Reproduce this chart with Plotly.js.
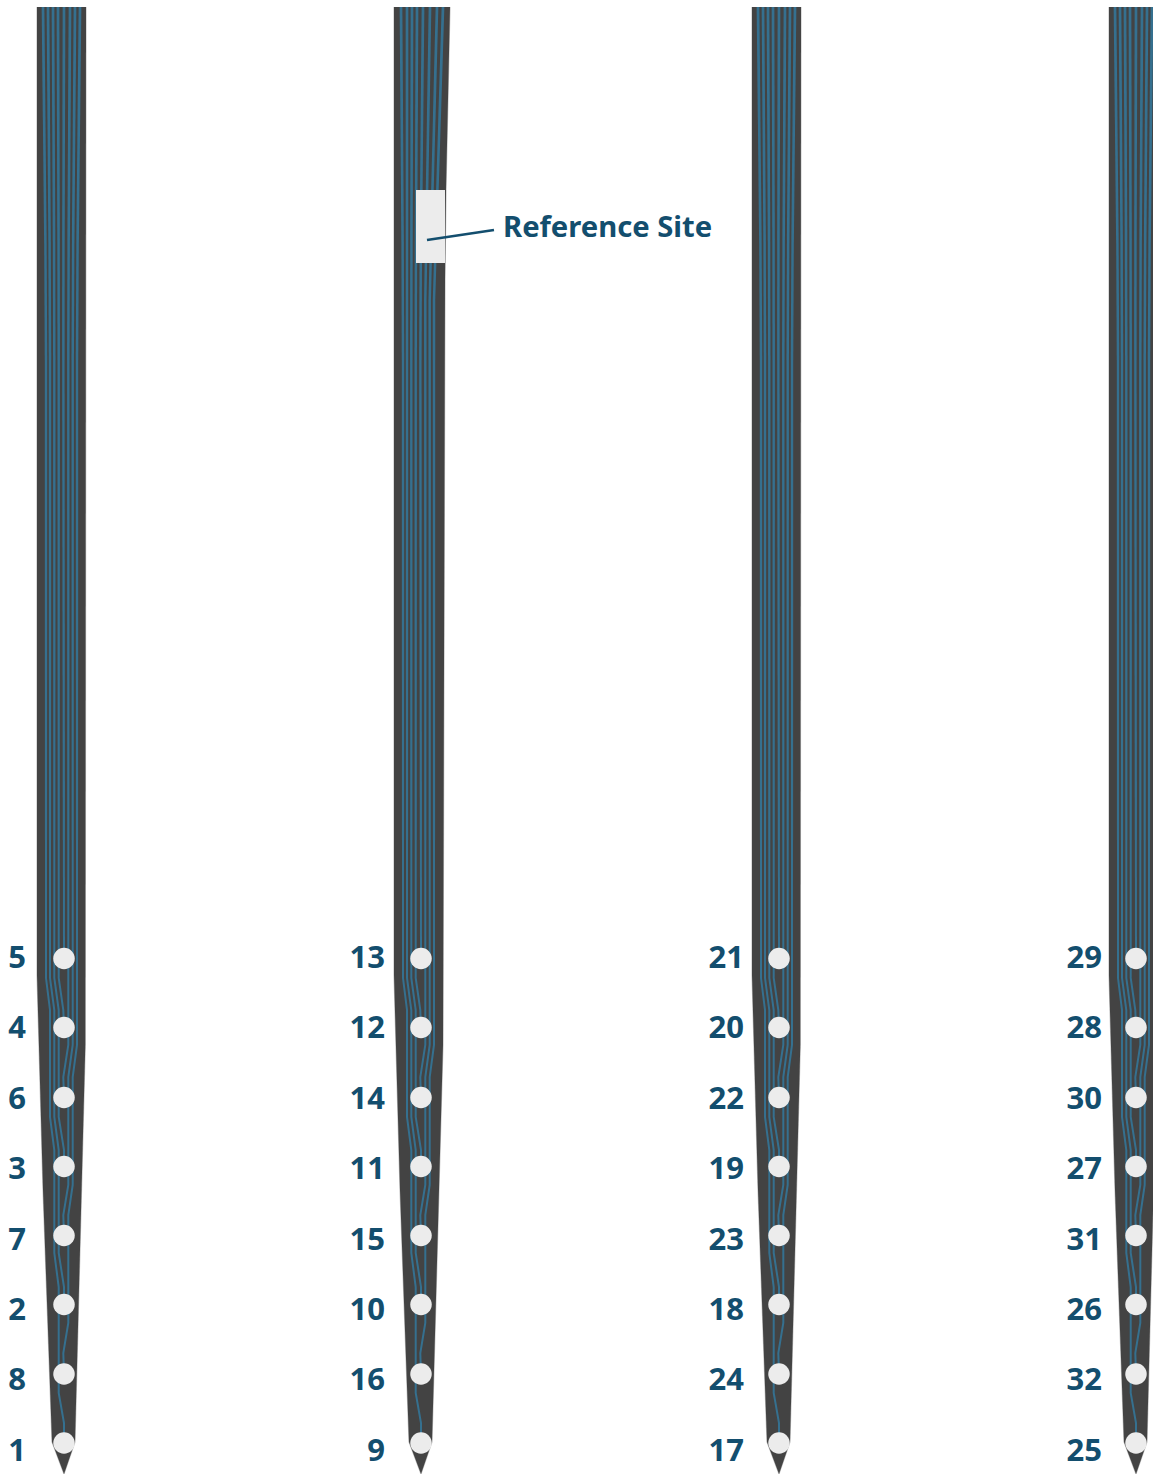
<!DOCTYPE html>
<html>
<head>
<meta charset="utf-8">
<script src="https://cdn.plot.ly/plotly-3.0.1.min.js"></script>
<style>html,body{margin:0;padding:0;background:#fff}#chart{width:1153px;height:1474px}</style>
</head>
<body>
<div id="chart"></div>
<script>
// Shank centres along the probe (chart x units)
const shankCentres = [64, 421, 779, 1136];
const labelRightEdges = [26, 385, 744, 1102];
const labelSets = [
  ['5','4','6','3','7','2','8','1'],
  ['13','12','14','11','15','10','16','9'],
  ['21','20','22','19','23','18','24','17'],
  ['29','28','30','27','31','26','32','25']
];
// Site depths, top to bottom
const siteDepths = [958.5, 1027.5, 1097.5, 1166.5, 1235.5, 1304.5, 1374, 1443];
const labelDepths = [960, 1030, 1101, 1171, 1242, 1312, 1382, 1453];

// Shank outlines, relative to shank centre
const outlineX = [-27, -27, -21, -14, -12, 0, 11, 21.3, 22];
const outlineY = [7, 975, 1190, 1390, 1442, 1474, 1442, 1045, 7];
const outlineXShank2 = [-27, -27, -21, -14, -12, 0, 11, 22, 24, 25, 29];
const outlineYShank2 = [7, 975, 1190, 1390, 1442, 1474, 1442, 1045, 280, 190, 7];

// Wire routes, one per site, relative to shank centre
const fanTopY = 7;
const fanTop = [-21, -16, -11, -6, 0, 6, 11, 16];
const fanTopShank2 = [-20, -14, -9, -4, 2, 9, 16, 22];
const wireSite1 = {y:[300,978,1010,1117,1150,1253,1287,1393,1423,1443], x:[-18,-18,-14,-14,-9.7,-9.7,-5.3,-5.3,0,0]};
const wireSite2 = {y:[300,978,1010,1117,1150,1253,1287,1304],           x:[-14,-14,-9.7,-9.7,-5.3,-5.3,0,0]};
const wireSite3 = {y:[300,978,1010,1117,1150,1166],                     x:[-9.7,-9.7,-5.3,-5.3,0,0]};
const wireSite4 = {y:[300,978,1010,1027],                               x:[-5.3,-5.3,-0.7,0]};
const wireSite5 = {y:[300,958],                                         x:[-0.7,0]};
const wireSite6 = {y:[300,1045,1077,1097],                              x:[4.3,4.3,-0.7,0]};
const wireSite7 = {y:[300,1045,1077,1185,1215,1235],                    x:[8.7,8.7,4.3,4.3,-0.7,0]};
const wireSite8 = {y:[300,1045,1077,1185,1215,1323,1353,1374],          x:[13,13,8.7,8.7,4.3,4.3,-0.7,0]};
const wires = [wireSite1, wireSite2, wireSite3, wireSite4, wireSite5, wireSite6, wireSite7, wireSite8];
// Wire thickness narrows gently with depth
const bandEdges  = [7, 120, 240, 360, 520, 680, 840, 2000];
const bandWidths = [2.7, 2.6, 2.5, 2.4, 2.3, 2.2, 2.0];

// Reference site
const refRectX = [416, 445, 445, 416, 416];
const refRectY = [190, 190, 263, 263, 190];
const refLeaderX = [427, 494];
const refLeaderY = [240, 230];
const refLabel = 'Reference Site';

const DARK = '#434343', WIRE = '#35708f', SITE = '#ececec', INK = '#134e6e';
const traces = [];
const base = {hoverinfo:'skip', showlegend:false};

shankCentres.forEach((c, s) => {
  const ox = (s === 1 ? outlineXShank2 : outlineX).map(v => v + c);
  const oy = s === 1 ? outlineYShank2 : outlineY;
  traces.push({...base, type:'scatter', mode:'lines', x:ox, y:oy, line:{color:'#c4c4c4', width:1.2}});
  traces.push({...base, type:'scatter', mode:'lines', x:ox, y:oy, fill:'toself', fillcolor:DARK, line:{width:0, color:DARK}});
});

function fullRoute(w, topX) { return {x:[topX].concat(w.x), y:[fanTopY].concat(w.y)}; }
function xAt(r, y) {
  for (let k = 1; k < r.y.length; k++) {
    if (y <= r.y[k]) return r.x[k-1] + (r.x[k]-r.x[k-1])*(y-r.y[k-1])/(r.y[k]-r.y[k-1]);
  }
  return r.x[r.x.length-1];
}
shankCentres.forEach((c, s) => {
  const fan = s === 1 ? fanTopShank2 : fanTop;
  bandWidths.forEach((bw, b) => {
    const lo = bandEdges[b], hi = bandEdges[b+1], xs = [], ys = [];
    wires.forEach((w, i) => {
      const r = fullRoute(w, fan[i]);
      const end = r.y[r.y.length-1];
      if (lo >= end) return;
      const stop = Math.min(hi, end);
      xs.push(xAt(r, lo) + c); ys.push(lo);
      r.y.forEach((yy, k) => { if (yy > lo && yy < stop) { xs.push(r.x[k] + c); ys.push(yy); } });
      xs.push(xAt(r, stop) + c); ys.push(stop);
      xs.push(null); ys.push(null);
    });
    traces.push({...base, type:'scatter', mode:'lines', x:xs, y:ys, connectgaps:false, line:{color:WIRE, width:bw}});
  });
});

shankCentres.forEach((c, s) => {
  traces.push({...base, type:'scatter', mode:'markers', x:siteDepths.map(()=>c), y:siteDepths,
    marker:{size:21.5, color:SITE, line:{width:0}}});
  traces.push({...base, type:'scatter', mode:'text', x:labelDepths.map(()=>labelRightEdges[s]), y:labelDepths,
    text:labelSets[s], textposition:'middle left', cliponaxis:false,
    textfont:{family:'"Noto Sans", sans-serif', size:31, color:INK, weight:700}});
});

traces.push({...base, type:'scatter', mode:'lines', x:refRectX, y:refRectY, fill:'toself',
  fillcolor:SITE, line:{width:0, color:SITE}});
traces.push({...base, type:'scatter', mode:'lines', x:refLeaderX, y:refLeaderY, line:{color:INK, width:2.6}});
traces.push({...base, type:'scatter', mode:'text', x:[503], y:[230], text:[refLabel], textposition:'middle right',
  textfont:{family:'"Noto Sans", sans-serif', size:29.2, color:INK, weight:700}});

const layout = {
  width:1153, height:1474, margin:{l:0,r:0,t:0,b:0},
  paper_bgcolor:'#fff', plot_bgcolor:'#fff', showlegend:false,
  xaxis:{range:[0,1153], visible:false, fixedrange:true},
  yaxis:{range:[1474,0], visible:false, fixedrange:true}
};
Plotly.newPlot('chart', traces, layout, {staticPlot:true, displayModeBar:false});
</script>
</body>
</html>
